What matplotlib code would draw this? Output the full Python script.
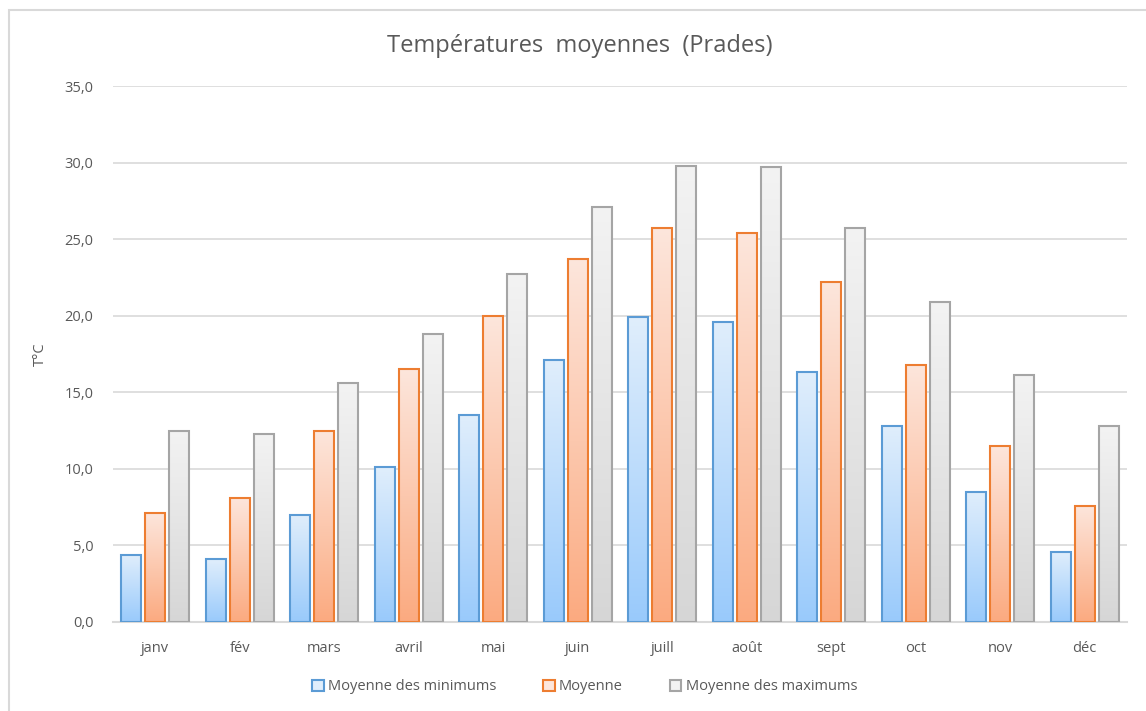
import numpy as np
import matplotlib.pyplot as plt
from matplotlib.patches import Rectangle, Patch
from matplotlib.colors import LinearSegmentedColormap

# Data
months = ['janv', 'fév', 'mars', 'avril', 'mai', 'juin',
          'juill', 'août', 'sept', 'oct', 'nov', 'déc']
t_min = [4.4, 4.1, 7.0, 10.1, 13.5, 17.1, 19.9, 19.6, 16.3, 12.8, 8.5, 4.6]
t_mean = [7.1, 8.1, 12.5, 16.5, 20.0, 23.7, 25.7, 25.4, 22.2, 16.8, 11.5, 7.6]
t_max = [12.5, 12.3, 15.6, 18.8, 22.7, 27.1, 29.8, 29.7, 25.7, 20.9, 16.1, 12.8]
series_names = ['Moyenne des minimums', 'Moyenne', 'Moyenne des maximums']

# (top colour, bottom colour, edge colour)
styles = [
    ('#e0eefc', '#99cafb', '#5b9bd5'),
    ('#fde6dc', '#fbaa80', '#ed7d31'),
    ('#f3f3f3', '#d6d6d6', '#a5a5a5'),
]

plt.rcParams['font.family'] = ['Open Sans', 'DejaVu Sans']
text_col = '#595959'

fig = plt.figure(figsize=(11.46, 7.11), dpi=100)
ax = fig.add_axes([0.0986, 0.1252, 0.8848, 0.7538])

# outer chart border
fig.patches.append(Rectangle((9 / 1146, -0.05), 1.1, 1 - 10 / 711 + 0.05,
                             transform=fig.transFigure, fill=False,
                             edgecolor='#d9d9d9', linewidth=1.5))

x = np.arange(len(months))
width = 0.237
step = 0.284

for k, (vals, (c_top, c_bot, c_edge)) in enumerate(zip([t_min, t_mean, t_max], styles)):
    cmap = LinearSegmentedColormap.from_list(f'g{k}', [c_bot, c_top])
    grad = np.linspace(0, 1, 256).reshape(-1, 1)
    for xi, v in zip(x, vals):
        x0 = xi + (k - 1) * step - width / 2
        im = ax.imshow(grad, cmap=cmap, aspect='auto', origin='lower',
                       extent=[x0, x0 + width, 0, v], zorder=2)
        rect = Rectangle((x0, 0), width, v, facecolor='none',
                         edgecolor=c_edge, linewidth=1.5, zorder=3)
        ax.add_patch(rect)
        im.set_clip_path(rect)

ax.set_xlim(-0.5, len(months) - 0.5)
ax.set_ylim(0, 35)
ax.set_yticks(np.arange(0, 36, 5))
ax.set_yticklabels([f'{v:.1f}'.replace('.', ',') for v in np.arange(0, 36, 5)])
ax.set_xticks(x)
ax.set_xticklabels(months)
ax.tick_params(axis='both', length=0, colors=text_col, labelsize=10.5)
ax.tick_params(axis='x', pad=14)
ax.tick_params(axis='y', pad=14)
ax.grid(axis='y', color='#d9d9d9', linewidth=1.2, zorder=0)
ax.set_axisbelow(True)
for side in ['top', 'right', 'left']:
    ax.spines[side].set_visible(False)
ax.spines['bottom'].set_color('#d9d9d9')
ax.spines['bottom'].set_linewidth(1.5)

ax.set_ylabel('T°C', color=text_col, fontsize=10.5)
ax.yaxis.set_label_coords(-0.064, 0.5)
fig.text(0.506, 0.935, 'Températures  moyennes  (Prades)', ha='center',
         va='center', fontsize=17, color=text_col)

handles = [Patch(facecolor=s[0], edgecolor=s[2], linewidth=1.5) for s in styles]
leg = fig.legend(handles, series_names, loc='center', bbox_to_anchor=(0.51, 0.034),
                 ncol=3, frameon=False, fontsize=10.5, handlelength=0.8,
                 handleheight=0.8, handletextpad=0.3, columnspacing=3.2)
for t in leg.get_texts():
    t.set_color(text_col)

fig.savefig('out.png', dpi=100)
